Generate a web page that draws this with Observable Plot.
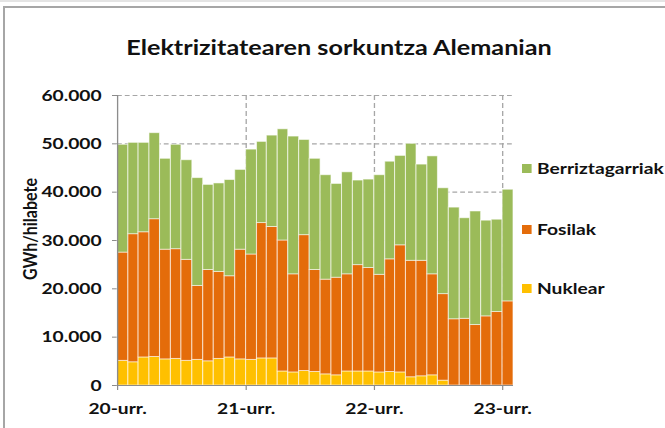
<!DOCTYPE html>
<html><head><meta charset="utf-8">
<script src="https://cdn.jsdelivr.net/npm/d3@7"></script>
<script src="https://cdn.jsdelivr.net/npm/@observablehq/plot@0.6"></script>
<style>
body{margin:0;background:#fff;font-family:Lato,sans-serif;overflow:hidden}
#outer{position:relative;width:665px;height:428px;overflow:hidden;background:#fff}
#topband{position:absolute;left:0;top:0;width:665px;height:2px;background:#e4e4e4}
#frame{position:absolute;left:3px;top:6px;width:800px;height:600px;border-top:2px solid #a6a6a6;border-left:2px solid #a6a6a6;box-sizing:border-box}
#wrap{position:absolute;left:0;top:0;width:554.17px;height:428px;transform:scaleX(1.2);transform-origin:0 0}
#chart{position:absolute;left:0;top:0}
#title{position:absolute;left:282.5px;top:34px;transform:translateX(-50%);font-weight:700;font-size:21px;color:#111;white-space:nowrap}
#ylabel{position:absolute;left:24.2px;top:229px;transform:translate(-50%,-50%) rotate(-90deg);font-weight:700;font-size:16px;color:#111;white-space:nowrap}
.leg{position:absolute;left:435px;font-weight:700;font-size:16px;color:#111;white-space:nowrap;line-height:20px}
.leg span{display:inline-block;width:7.5px;height:9px;margin-right:5px;vertical-align:1px}
#chart svg [aria-label*="axis"] line,#chart svg [aria-label*="axis"] path{stroke:#8c8c8c}
</style></head>
<body>
<div id="outer">
<div id="topband"></div>
<div id="frame"></div>
<div id="wrap">
<div id="chart"></div>
<div id="title">Elektrizitatearen sorkuntza Alemanian</div>
<div id="ylabel">GWh/hilabete</div>
<div id="legend"></div>
</div>
</div>
<script>
const months = ["2020-01","2020-02","2020-03","2020-04","2020-05","2020-06","2020-07","2020-08","2020-09","2020-10","2020-11","2020-12",
"2021-01","2021-02","2021-03","2021-04","2021-05","2021-06","2021-07","2021-08","2021-09","2021-10","2021-11","2021-12",
"2022-01","2022-02","2022-03","2022-04","2022-05","2022-06","2022-07","2022-08","2022-09","2022-10","2022-11","2022-12",
"2023-01"];
const nuklear = [5100,4800,5800,5900,5400,5500,5100,5300,5000,5500,5800,5400,
5300,5600,5600,2900,2700,3000,2800,2300,2100,2900,2900,2900,
2700,2800,2700,1700,1900,2100,1000,0,0,0,0,0,0];
const fosilak = [22400,26500,25900,28500,22700,22700,20900,15300,18900,18000,16800,22700,
21800,28000,27200,27100,20300,28100,21100,19600,20200,20100,22000,21400,
20200,23300,26300,24100,23900,20900,17900,13700,13800,12500,14300,15200,17400];
const berriztagarriak = [22300,18900,18500,17800,18800,21600,20600,22300,17600,18300,19900,16500,
21700,16800,18900,23000,28500,19700,23000,21600,19400,21100,17500,18300,
20600,20200,18500,24200,19900,24400,21900,23100,20800,23500,19800,19100,23100];
const seriesNames = ["Nuklear","Fosilak","Berriztagarriak"];
const seriesColors = ["#FFC000","#E46C0A","#9BBB59"];
const yTicks = [0,10000,20000,30000,40000,50000,60000];
const xTickLabels = ["20-urr.","21-urr.","22-urr.","23-urr."];
const xTickMonths = ["2020-01","2021-01","2022-01","2023-01"];

const S = 1.2; // horizontal stretch of the whole picture
const parse = s => new Date(s + "-01T00:00:00Z");
const seriesValues = [nuklear, fosilak, berriztagarriak];
const data = [];
months.forEach((m, i) => {
  const d0 = parse(m);
  const d1 = d3.utcMonth.offset(d0, 1);
  seriesNames.forEach((name, k) => data.push({x1: d0, x2: d1, type: name, value: seriesValues[k][i]}));
});
const xDomain = [parse(months[0]), d3.utcMonth.offset(parse(months[months.length-1]), 1)];
const xTicks = xTickMonths.map(parse);
const fmt = v => v === 0 ? "0" : d3.format(",")(v).replace(/,/g, ".");

const chart = Plot.plot({
  width: 665 / S, height: 428,
  marginLeft: 117 / S, marginRight: 152 / S, marginTop: 95, marginBottom: 43,
  style: {fontFamily: "Lato, sans-serif", fontSize: "16px", fontWeight: "700", color: "#111", background: "transparent", overflow: "visible"},
  x: {type: "utc", domain: xDomain, ticks: xTicks, tickSize: 5, tickPadding: 12.5,
      tickFormat: d => xTickLabels[xTicks.findIndex(t => +t === +d)], label: null},
  y: {domain: [0, 60000], ticks: yTicks, tickSize: 5 / S, tickPadding: 11 / S, tickFormat: fmt, label: null},
  color: {domain: seriesNames, range: seriesColors},
  marks: [
    Plot.ruleY(yTicks.slice(1), {stroke: "#a6a6a6", strokeWidth: 1.2, strokeDasharray: "4,2.5"}),
    Plot.ruleX(xTicks.slice(1), {stroke: "#a6a6a6", strokeWidth: 1.1, strokeDasharray: "5,3"}),
    Plot.rectY(data, Plot.stackY({x1: "x1", x2: "x2", y: "value", fill: "type", stroke: "#fff", strokeOpacity: 0.6, strokeWidth: 0.9})),
    Plot.ruleX([xDomain[0]], {stroke: "#8c8c8c", strokeWidth: 1.1}),
    Plot.ruleY([0], {stroke: "#8c8c8c", strokeWidth: 1.2})
  ]
});
document.getElementById("chart").appendChild(chart);

const legendTops = {"Berriztagarriak": 158, "Fosilak": 219, "Nuklear": 278};
const leg = document.getElementById("legend");
[2,1,0].forEach(k => {
  const div = document.createElement("div");
  div.className = "leg";
  div.style.top = legendTops[seriesNames[k]] + "px";
  div.innerHTML = `<span style="background:${seriesColors[k]}"></span>${seriesNames[k]}`;
  leg.appendChild(div);
});
</script>
</body></html>
